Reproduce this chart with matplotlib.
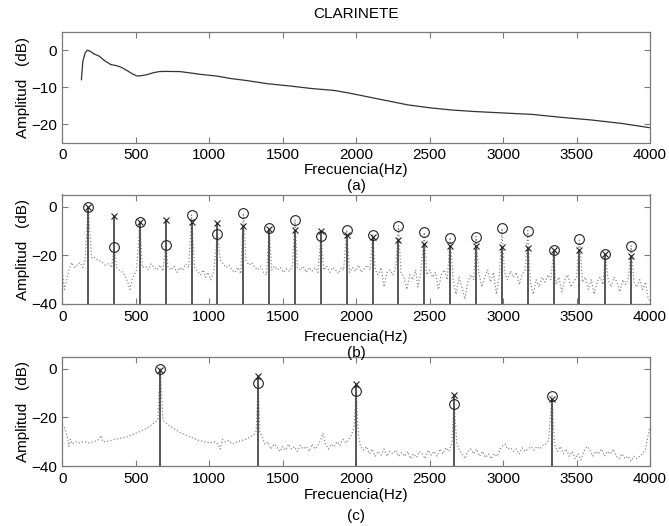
import matplotlib
matplotlib.use("Agg")
import matplotlib.pyplot as plt
import numpy as np

plt.rcParams["font.family"] = ["Liberation Sans", "DejaVu Sans"]
plt.rcParams["font.size"] = 11

# (a) envolvente espectral
env_freq = [130, 140, 155, 170, 190, 215, 250, 290, 330, 370, 400, 440, 480, 510,
            540, 580, 620, 660, 700, 800, 860, 950, 1050, 1150, 1250, 1400, 1550,
            1700, 1850, 1950, 2050, 2200, 2350, 2500, 2650, 2800, 3000, 3200, 3400,
            3600, 3800, 4000]
env_db = [-8, -3, -0.8, 0, -0.3, -1, -1.6, -2.9, -3.9, -4.2, -4.6, -5.5, -6.5, -7,
          -6.9, -6.6, -6.1, -5.8, -5.75, -5.8, -6.1, -6.6, -7, -7.7, -8.2, -9.1,
          -9.7, -10.4, -10.9, -11.6, -12.4, -13.6, -14.8, -15.6, -16.2, -16.6, -17,
          -17.4, -18.2, -18.9, -19.8, -21]

# (b) armonicos: medidos (o) y modelo (x)
harm_b = [176, 352, 528, 704, 880, 1056, 1232, 1408, 1584, 1760, 1936, 2112, 2288,
          2464, 2640, 2816, 2992, 3168, 3344, 3520, 3696, 3872]
circ_b = [0, -16.7, -6.1, -15.7, -3.4, -11.2, -2.7, -8.9, -5.6, -11.9, -9.6, -11.6,
          -7.8, -10.6, -12.7, -12.3, -8.9, -9.8, -18.0, -13.2, -19.6, -16.1]
cross_b = [0, -3.7, -6.4, -5.5, -6.1, -6.8, -7.9, -9.0, -9.6, -10.0, -11.6, -12.6,
           -13.7, -15.4, -16.1, -16.1, -16.7, -17.1, -18.0, -17.7, -19.6, -20.4]

# (b) espectro de fondo (punteado)
bg_b_freq = [0, 15, 30, 45, 65, 85, 100, 120, 140, 155, 200, 215, 240, 265, 290, 315,
             335, 370, 395, 415, 430, 445, 460, 475, 490, 505, 545, 565, 585, 605,
             625, 645, 665, 685, 720, 740, 760, 780, 800, 820, 840, 860, 900, 920,
             940, 960, 975, 990, 1010, 1030, 1075, 1095, 1115, 1135, 1155, 1175,
             1195, 1215, 1250, 1270, 1290, 1310, 1330, 1350, 1370, 1390, 1425, 1445,
             1465, 1485, 1505, 1525, 1545, 1565, 1600, 1620, 1640, 1660, 1680, 1700,
             1720, 1740, 1780, 1800, 1820, 1840, 1860, 1880, 1900, 1915, 1955, 1975,
             1995, 2015, 2035, 2055, 2075, 2095, 2130, 2150, 2170, 2190, 2210, 2230,
             2250, 2270, 2305, 2325, 2345, 2365, 2385, 2405, 2420, 2440, 2480, 2500,
             2520, 2540, 2560, 2580, 2600, 2620, 2660, 2680, 2700, 2720, 2740, 2760,
             2780, 2800, 2835, 2855, 2875, 2895, 2915, 2935, 2955, 2975, 3010, 3030,
             3050, 3070, 3090, 3110, 3130, 3150, 3185, 3205, 3225, 3245, 3265, 3285,
             3305, 3325, 3360, 3380, 3400, 3420, 3440, 3460, 3480, 3500, 3540, 3560,
             3580, 3600, 3620, 3640, 3660, 3680, 3715, 3735, 3755, 3775, 3795, 3815,
             3835, 3855, 3890, 3910, 3930, 3950, 3970, 3985, 4000]
bg_b_db = [-27, -34, -30, -26, -23, -25, -24, -23, -25, -22, -21, -20.5, -22, -22.5,
           -24, -23.5, -25, -25, -26.5, -27, -29, -31, -34, -30, -28, -26, -25, -24.5,
           -26, -23.5, -25, -26, -24, -26.5, -25, -26, -24.5, -27, -25, -26, -23.5,
           -25, -25, -26.5, -28, -26, -29, -27, -30, -27, -22, -23.5, -25, -24, -26,
           -27, -25, -27.5, -22, -24, -23, -25, -26, -24.5, -27, -28, -26, -24.5,
           -26, -25, -27, -25.5, -26.5, -25, -25, -26, -24.5, -27, -25, -26.5, -25,
           -27, -26, -24.5, -27, -25, -26, -27.5, -25, -26, -27, -25, -26.5, -24,
           -27, -25.5, -24, -26, -26, -28, -25, -33, -27, -26, -28, -25, -27, -29,
           -34, -28, -30, -26, -33, -27, -28, -26, -29, -27, -34, -28, -26, -30, -30,
           -36, -29, -33, -38, -31, -28, -30, -27, -33, -29, -26, -31, -27, -36, -28,
           -27, -30, -26.5, -29, -27, -32, -28, -26, -31, -36, -30, -33, -29, -31,
           -28, -30, -32, -29, -35, -30, -28, -33, -31, -29, -31, -29, -34, -30, -36,
           -31, -29, -32, -30, -33, -29, -31, -35, -30, -32, -29, -31, -33, -30, -34,
           -31, -37, -39]

# (c) armonicos
harm_c = [667, 1333, 2000, 2667, 3333]
circ_c = [0, -6.0, -9.1, -14.5, -11.1]
cross_c = [-0.3, -3.0, -6.4, -10.8, -12.5]

bg_c_freq = [0, 15, 30, 45, 55, 70, 90, 120, 150, 180, 210, 240, 265, 275, 300, 330,
             360, 400, 440, 480, 520, 560, 600, 630, 650, 685, 700, 730, 770, 810,
             850, 890, 930, 970, 1010, 1040, 1060, 1075, 1090, 1110, 1130, 1160,
             1190, 1220, 1250, 1280, 1305, 1320, 1345, 1360, 1380, 1400, 1420, 1440,
             1460, 1480, 1500, 1520, 1540, 1560, 1580, 1600, 1620, 1640, 1660, 1680,
             1700, 1720, 1740, 1760, 1775, 1790, 1810, 1830, 1850, 1870, 1890, 1910,
             1930, 1950, 1970, 1985, 2015, 2030, 2050, 2070, 2090, 2110, 2130, 2150,
             2170, 2190, 2210, 2230, 2250, 2270, 2290, 2310, 2330, 2350, 2370, 2390,
             2410, 2430, 2450, 2470, 2490, 2510, 2530, 2550, 2570, 2590, 2610, 2630,
             2650, 2685, 2700, 2720, 2740, 2760, 2780, 2800, 2820, 2840, 2860, 2880,
             2900, 2920, 2940, 2960, 2980, 3000, 3015, 3030, 3050, 3070, 3090, 3110,
             3130, 3150, 3170, 3190, 3210, 3230, 3250, 3270, 3290, 3310, 3350, 3370,
             3390, 3410, 3430, 3450, 3470, 3490, 3510, 3530, 3550, 3570, 3590, 3610,
             3630, 3650, 3670, 3690, 3710, 3730, 3750, 3770, 3790, 3810, 3830, 3850,
             3870, 3890, 3910, 3930, 3950, 3970, 3985, 4000]
bg_c_db = [-23, -24, -27, -32, -29, -31, -30, -30.5, -30, -30.5, -30, -29.5, -27.5,
           -30, -30, -29.5, -29, -28.5, -28, -27, -26, -25, -23.5, -22, -21, -21, -22,
           -23.5, -25, -26.5, -27.5, -28.5, -29.5, -30, -30.5, -30, -31, -33, -29,
           -30, -29.5, -31, -30, -29.5, -29, -28, -27, -25.5, -26, -28, -31, -30, -33,
           -31, -32, -34, -32, -33.5, -31, -33, -32, -34, -31.5, -33, -32, -34, -31,
           -33, -31.5, -29, -26.5, -31, -33, -31, -32, -30, -31.5, -29, -30.5, -29,
           -27, -24, -27, -32, -33.5, -32, -35, -33, -36, -34, -35.5, -33, -36, -34,
           -35, -33.5, -36, -34.5, -36, -34, -37, -35, -36.5, -34, -35, -37, -33.5,
           -35.5, -34, -36, -33, -35, -32.5, -34, -31, -31, -33, -35, -37, -34, -33,
           -35, -33, -36, -34, -36.5, -35, -37, -35, -36, -33, -31.5, -31, -33, -32.5,
           -34, -33, -35, -32.5, -34, -33, -32, -33.5, -32, -33, -31.5, -31, -29.5,
           -31, -34, -32, -35, -33, -36, -34, -37, -35, -37.5, -34, -32, -33, -36,
           -34, -35, -33, -36, -34, -35, -33, -36, -37, -35, -37, -36, -38, -36, -37,
           -36, -35, -33, -28, -24]

freq_ticks = [0, 500, 1000, 1500, 2000, 2500, 3000, 3500, 4000]

W, H = 669, 526
GRIS = "#7a7a7a"


def espectro(bg_freq, bg_db, harm, circ):
    # inserta los picos medidos en el espectro de fondo
    f = list(bg_freq) + list(harm)
    d = list(bg_db) + list(circ)
    orden = np.argsort(f)
    return np.array(f)[orden], np.array(d)[orden]


def rect(top, bottom, left=62.3, right=650):
    return [left / W, 1 - bottom / H, (right - left) / W, (bottom - top) / H]


def estilo(ax, ylim, yticks):
    ax.set_xlim(0, 4000)
    ax.set_ylim(*ylim)
    ax.set_xticks(freq_ticks)
    ax.set_yticks(yticks)
    ax.tick_params(direction="in", length=4, width=0.8, color=GRIS,
                   top=True, right=True, pad=4, labelsize=11)
    for s in ax.spines.values():
        s.set_color(GRIS)
        s.set_linewidth(0.9)


fig = plt.figure(figsize=(W / 100, H / 100), dpi=100)

# (a)
ax1 = fig.add_axes(rect(31.7, 142.5))
ax1.plot(env_freq, env_db, color="#333333", lw=0.9)
estilo(ax1, (-25, 5), [-20, -10, 0])

# (b)
ax2 = fig.add_axes(rect(194.5, 304))
fb, db = espectro(bg_b_freq, bg_b_db, harm_b, circ_b)
ax2.plot(fb, db, ls=":", color="#8c8c8c", lw=0.9)
ax2.vlines(harm_b, -40, cross_b, color="#4a4a4a", lw=1.3)
ax2.plot(harm_b, circ_b, "o", mfc="none", mec="#222222", ms=7, mew=0.8)
ax2.plot(harm_b, cross_b, "x", color="#222222", ms=5, mew=0.8)
estilo(ax2, (-40, 5), [-40, -20, 0])

# (c)
ax3 = fig.add_axes(rect(356.7, 466))
fc, dc = espectro(bg_c_freq, bg_c_db, harm_c, circ_c)
ax3.plot(fc, dc, ls=":", color="#8c8c8c", lw=0.9)
ax3.vlines(harm_c, -40, cross_c, color="#4a4a4a", lw=1.3)
ax3.plot(harm_c, circ_c, "o", mfc="none", mec="#222222", ms=7, mew=0.8)
ax3.plot(harm_c, cross_c, "x", color="#222222", ms=5, mew=0.8)
estilo(ax3, (-40, 5), [-40, -20, 0])

# textos
cx = (62.3 + 650) / 2 / W
fig.text(cx, 1 - 14 / H, "CLARINETE", ha="center", va="center", fontsize=11)
for y_lab, y_let, letra in [(170, 186, "(a)"), (337, 353, "(b)"), (495, 516, "(c)")]:
    fig.text(cx, 1 - y_lab / H, "Frecuencia(Hz)", ha="center", va="center")
    fig.text(cx, 1 - y_let / H, letra, ha="center", va="center")
for yc in [(31.7 + 142.5) / 2, (194.5 + 304) / 2, (356.7 + 466) / 2]:
    fig.text(23 / W, 1 - yc / H, "Amplitud   (dB)", rotation=90,
             ha="center", va="center")

fig.savefig("out.png", dpi=100)
